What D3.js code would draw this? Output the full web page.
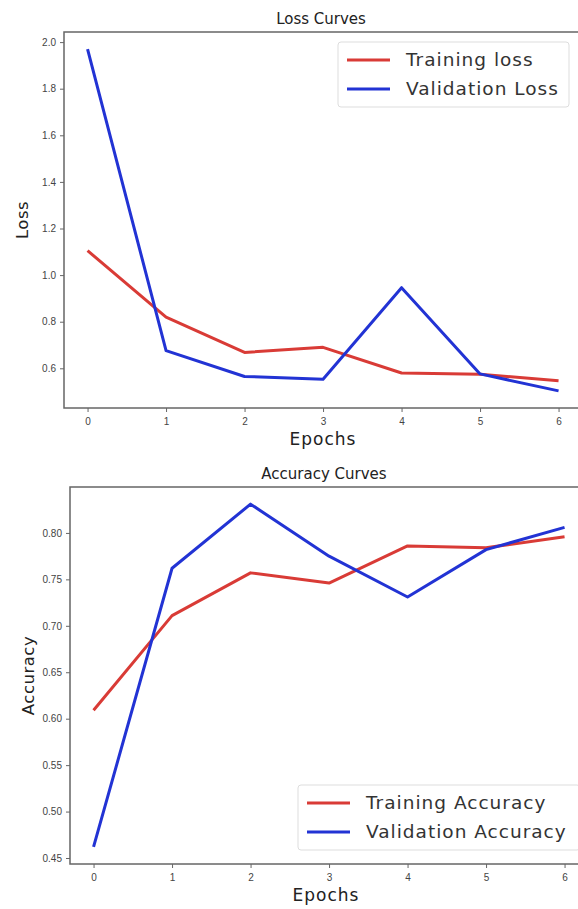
<!DOCTYPE html>
<html>
<head>
<meta charset="utf-8">
<script src="https://cdn.jsdelivr.net/npm/d3@7"></script>
<style>
  body { margin: 0; background: #fff; }
  svg { display: block; font-family: "DejaVu Sans", sans-serif; }
  .tick text { fill: #444; font-size: 10px; }
  .tick line { stroke: #666; }
  .domain { display: none; }
</style>
</head>
<body>
<svg id="chart" width="578" height="909"></svg>
<script>
// epochs
const epochs = [0, 1, 2, 3, 4, 5, 6];

// loss series
const trainLoss = [1.105, 0.82, 0.668, 0.69, 0.58, 0.574, 0.547];
const valLoss = [1.97, 0.676, 0.565, 0.553, 0.946, 0.576, 0.503];

// accuracy series
const trainAcc = [0.609, 0.711, 0.757, 0.746, 0.786, 0.784, 0.796];
const valAcc = [0.462, 0.762, 0.831, 0.775, 0.731, 0.782, 0.806];

// tick labels
const lossTicks = [0.6, 0.8, 1.0, 1.2, 1.4, 1.6, 1.8, 2.0];
const accTicks = [0.45, 0.50, 0.55, 0.60, 0.65, 0.70, 0.75, 0.80];

const RED = '#d93b36';
const BLUE = '#2233d4';

const svg = d3.select('#chart');

/**
 * 画一个子图
 */
function drawPanel(cfg) {
    const { box, title, ylabel, yTicks, yFmt, series, legend } = cfg;

    const g = svg.append('g');

    // matplotlib 式的 5% 边距
    const xScale = d3.scaleLinear()
        .domain([-0.3, 6.3])
        .range([box.left, box.left + 78.5 * 6.6]);

    const all = series.flatMap(s => s.values);
    const [lo, hi] = d3.extent(all);
    const pad = (hi - lo) * 0.05;
    const yScale = d3.scaleLinear()
        .domain([lo - pad, hi + pad])
        .range([box.bottom, box.top]);

    // 坐标轴
    g.append('g')
        .attr('transform', `translate(0,${box.bottom})`)
        .call(d3.axisBottom(xScale).tickValues(epochs).tickSize(4).tickPadding(6).tickFormat(d3.format('d')));

    g.append('g')
        .attr('transform', `translate(${box.left},0)`)
        .call(d3.axisLeft(yScale).tickValues(yTicks).tickSize(4).tickPadding(4).tickFormat(yFmt));

    // 边框
    g.append('rect')
        .attr('x', box.left)
        .attr('y', box.top)
        .attr('width', 600 - box.left)
        .attr('height', box.bottom - box.top)
        .attr('fill', 'none')
        .attr('stroke', '#666')
        .attr('stroke-width', 1.5);

    // 曲线
    const line = d3.line()
        .x((d, i) => xScale(epochs[i]))
        .y(d => yScale(d));

    series.forEach(s => {
        g.append('path')
            .datum(s.values)
            .attr('d', line)
            .attr('fill', 'none')
            .attr('stroke', s.color)
            .attr('stroke-width', 3)
            .attr('stroke-linejoin', 'round');
    });

    // 标题
    const cx = (box.left + 578) / 2;
    g.append('text')
        .attr('x', cx)
        .attr('y', box.top - 8)
        .attr('text-anchor', 'middle')
        .attr('font-size', 15)
        .attr('fill', '#222')
        .text(title);

    // x 轴标题
    g.append('text')
        .attr('x', (box.left + 600) / 2 - 9)
        .attr('y', box.bottom + 37)
        .attr('text-anchor', 'middle')
        .attr('font-size', 17)
        .attr('letter-spacing', 1)
        .attr('fill', '#222')
        .text('Epochs');

    // y 轴标题
    g.append('text')
        .attr('transform', `translate(${box.left - 36},${(box.top + box.bottom) / 2}) rotate(-90)`)
        .attr('text-anchor', 'middle')
        .attr('font-size', 16.5)
        .attr('letter-spacing', 0.5)
        .attr('fill', '#222')
        .text(ylabel);

    // 图例
    const lg = g.append('g');
    lg.append('rect')
        .attr('x', legend.x)
        .attr('y', legend.y)
        .attr('width', legend.w)
        .attr('height', 65)
        .attr('rx', 3)
        .attr('fill', '#fff')
        .attr('stroke', '#ddd');

    series.forEach((s, i) => {
        const ly = legend.y + 18 + i * 29;
        lg.append('line')
            .attr('x1', legend.x + 9)
            .attr('x2', legend.x + 52)
            .attr('y1', ly)
            .attr('y2', ly)
            .attr('stroke', s.color)
            .attr('stroke-width', 3);
        lg.append('text')
            .attr('x', legend.x + 68)
            .attr('y', ly + 6)
            .attr('font-size', 18.5)
            .attr('letter-spacing', 1)
            .attr('fill', '#333')
            .text(s.name);
    });
}

drawPanel({
    box: { left: 64, top: 32, bottom: 408 },
    title: 'Loss Curves',
    ylabel: 'Loss',
    yTicks: lossTicks,
    yFmt: d3.format('.1f'),
    series: [
        { name: 'Training loss', values: trainLoss, color: RED },
        { name: 'Validation Loss', values: valLoss, color: BLUE }
    ],
    legend: { x: 338, y: 42, w: 231 }
});

drawPanel({
    box: { left: 70, top: 487, bottom: 864 },
    title: 'Accuracy Curves',
    ylabel: 'Accuracy',
    yTicks: accTicks,
    yFmt: d3.format('.2f'),
    series: [
        { name: 'Training Accuracy', values: trainAcc, color: RED },
        { name: 'Validation Accuracy', values: valAcc, color: BLUE }
    ],
    legend: { x: 298, y: 785, w: 282 }
});
</script>
</body>
</html>
